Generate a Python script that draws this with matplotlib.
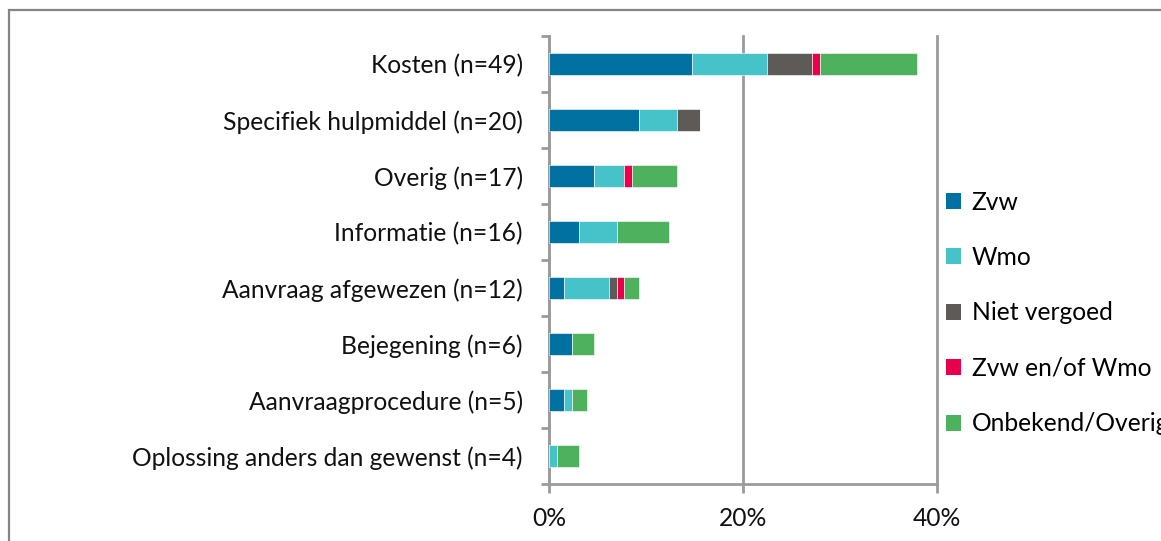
import matplotlib.pyplot as plt
import numpy as np
from matplotlib.patches import Rectangle, Patch

plt.rcParams['font.family'] = ['Lato', 'DejaVu Sans']

# categories, top to bottom
categories = ['Kosten (n=49)', 'Specifiek hulpmiddel (n=20)', 'Overig (n=17)',
              'Informatie (n=16)', 'Aanvraag afgewezen (n=12)', 'Bejegening (n=6)',
              'Aanvraagprocedure (n=5)', 'Oplossing anders dan gewenst (n=4)']

# share of all complaints (%) per type of reimbursement
zvw = [14.73, 9.30, 4.65, 3.10, 1.55, 2.33, 1.55, 0.0]
wmo = [7.75, 3.88, 3.10, 3.88, 4.65, 0.0, 0.78, 0.78]
niet_vergoed = [4.65, 2.33, 0.0, 0.0, 0.78, 0.0, 0.0, 0.0]
zvw_of_wmo = [0.78, 0.0, 0.78, 0.0, 0.78, 0.0, 0.0, 0.0]
onbekend = [10.08, 0.0, 4.65, 5.43, 1.55, 2.33, 1.55, 2.33]

series = ['Zvw', 'Wmo', 'Niet vergoed', 'Zvw en/of Wmo', 'Onbekend/Overig']
colors = ['#0071a0', '#45c3c8', '#5e5a57', '#e8004c', '#4eb15d']
values = [zvw, wmo, niet_vergoed, zvw_of_wmo, onbekend]

fig = plt.figure(figsize=(11.61, 5.41), dpi=100)
ax = fig.add_axes([549.3 / 1161, 1 - 484 / 541, (936.7 - 549.3) / 1161, (484 - 36) / 541])

y = np.arange(len(categories))
left = np.zeros(len(categories))
for name, col, vals in zip(series, colors, values):
    ax.barh(y, vals, left=left, height=0.4, color=col, edgecolor='white',
            linewidth=0.4, label=name, zorder=3)
    left += np.array(vals)

ax.set_xlim(0, 40)
ax.set_ylim(len(categories) - 0.5, -0.5)
ax.set_xticks([0, 20, 40])
ax.set_xticklabels(['0%', '20%', '40%'])
ax.set_yticks(y)
ax.set_yticklabels(categories)
ax.set_yticks(np.arange(len(categories) + 1) - 0.5, minor=True)

grey = '#9b9b9b'
ax.grid(axis='x', color=grey, linewidth=2, zorder=0)
for gl in ax.get_xgridlines():
    gl.set_clip_on(False)
for s in ['top', 'right']:
    ax.spines[s].set_visible(False)
for s in ['left', 'bottom']:
    ax.spines[s].set_color(grey)
    ax.spines[s].set_linewidth(2)

ax.tick_params(axis='y', which='major', length=0, pad=19, labelsize=17.7, labelcolor='#111111')
ax.tick_params(axis='y', which='minor', length=6, width=2, color=grey, direction='out')
ax.tick_params(axis='x', length=6.5, width=2, color=grey, direction='out', pad=10,
               labelsize=17.7, labelcolor='#111111')

handles = [Patch(facecolor=c, edgecolor='none', label=n) for n, c in zip(series, colors)]
fig.legend(handles=handles, loc='center left', bbox_to_anchor=(946 / 1161, 1 - 313 / 541),
           frameon=False, fontsize=17.7, handlelength=0.62, handleheight=0.62,
           handletextpad=0.42, labelspacing=1.32, borderpad=0, borderaxespad=0)

# chart frame (extends past the right and bottom edge like the source)
fig.patches.append(Rectangle((8.5 / 1161, -0.1), 1.2, 1 - 9.5 / 541 + 0.1,
                             transform=fig.transFigure, fill=False,
                             edgecolor='#858585', linewidth=1.6))

fig.savefig('out.png', dpi=100)
